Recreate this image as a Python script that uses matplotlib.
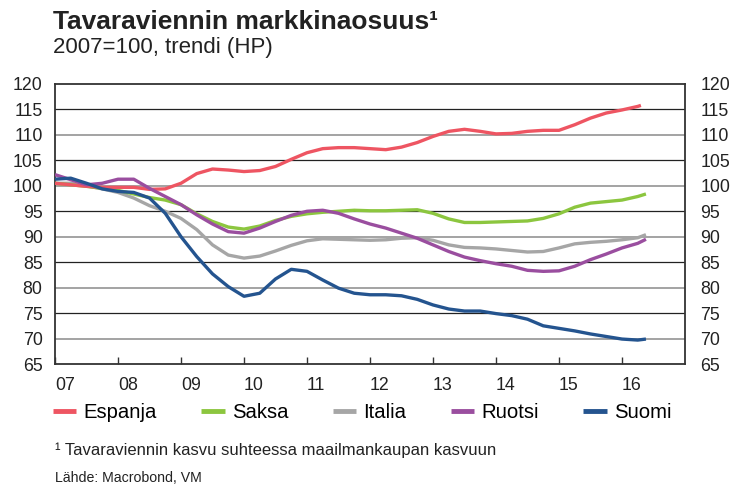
import matplotlib
matplotlib.use("Agg")
import matplotlib.pyplot as plt
import matplotlib.transforms as mtransforms

plt.rcParams['font.family'] = ['Liberation Sans', 'DejaVu Sans']

# ---- data (quarterly, 2007Q1 .. 2016Q2, plus last observation) ----
quarters = [2007 + i / 4 for i in range(38)]

espanja = [100.5, 100.2, 99.9, 99.7, 99.7, 99.7, 99.3, 99.4, 100.5, 102.4,
           103.3, 103.1, 102.8, 103.0, 103.8, 105.2, 106.5, 107.3, 107.5, 107.5,
           107.3, 107.1, 107.6, 108.5, 109.7, 110.7, 111.1, 110.7, 110.2, 110.3,
           110.7, 110.9, 110.9, 112.0, 113.3, 114.3, 114.9, 115.6]
espanja_end = (2016.30, 115.8)

saksa = [100.5, 100.2, 99.9, 99.5, 99.1, 98.4, 97.7, 97.2, 96.3, 94.5,
         93.0, 91.9, 91.5, 92.1, 93.2, 94.0, 94.5, 94.8, 95.0, 95.2,
         95.1, 95.1, 95.2, 95.3, 94.6, 93.5, 92.8, 92.8, 92.9, 93.0,
         93.1, 93.6, 94.5, 95.8, 96.6, 96.9, 97.2, 97.9]
saksa_end = (2016.38, 98.4)

italia = [100.5, 100.5, 100.0, 99.4, 98.7, 97.6, 96.1, 95.0, 93.6, 91.4,
          88.4, 86.4, 85.8, 86.2, 87.2, 88.3, 89.2, 89.6, 89.5, 89.4,
          89.3, 89.4, 89.7, 89.8, 89.3, 88.4, 87.9, 87.8, 87.6, 87.3,
          87.0, 87.1, 87.8, 88.6, 88.9, 89.1, 89.4, 89.8]
italia_end = (2016.38, 90.4)

ruotsi = [102.2, 101.2, 100.2, 100.5, 101.3, 101.3, 99.5, 97.9, 96.3, 94.3,
          92.5, 91.0, 90.7, 91.7, 93.0, 94.2, 95.0, 95.2, 94.6, 93.5,
          92.5, 91.7, 90.7, 89.7, 88.4, 87.1, 86.0, 85.3, 84.7, 84.2,
          83.4, 83.2, 83.3, 84.2, 85.5, 86.6, 87.8, 88.7]
ruotsi_end = (2016.38, 89.5)

suomi = [101.3, 101.5, 100.5, 99.4, 98.9, 98.7, 97.6, 94.6, 90.0, 86.1,
         82.7, 80.2, 78.3, 78.9, 81.7, 83.6, 83.2, 81.5, 79.9, 78.9,
         78.6, 78.6, 78.4, 77.7, 76.6, 75.8, 75.4, 75.4, 74.9, 74.5,
         73.8, 72.5, 72.0, 71.5, 70.9, 70.4, 69.9, 69.7]
suomi_end = (2016.38, 69.9)

series_names = ['Espanja', 'Saksa', 'Italia', 'Ruotsi', 'Suomi']
series_vals = [espanja, saksa, italia, ruotsi, suomi]
series_ends = [espanja_end, saksa_end, italia_end, ruotsi_end, suomi_end]
colors = ['#EE5562', '#8CC63F', '#A6A6A6', '#9A4E9F', '#24548F']
zorders = [4, 3, 2, 5, 6]

year_ticks = list(range(2007, 2017))
year_labels = ['07', '08', '09', '10', '11', '12', '13', '14', '15', '16']
y_ticks = list(range(65, 121, 5))

# ---- figure ----
fig = plt.figure(figsize=(7.33, 4.86), dpi=100)
ax = fig.add_axes([55 / 733, 1 - 364 / 486, 630 / 733, 280 / 486])

for v in y_ticks[1:-1]:
    if v % 10 == 5:
        ax.axhline(v, color='#222222', lw=0.9, zorder=1)
    else:
        ax.axhline(v, color='#8a8a8a', lw=1.1, zorder=1)

for name, vals, end, c, z in zip(series_names, series_vals, series_ends, colors, zorders):
    xs = quarters + [end[0]]
    ys = vals + [end[1]]
    ax.plot(xs, ys, color=c, lw=2.4, label=name, zorder=z,
            solid_capstyle='butt', solid_joinstyle='round')

ax.set_xlim(2007, 2017)
ax.set_ylim(65, 120)
ax.set_yticks(y_ticks)
ax.set_yticklabels([str(v) for v in y_ticks])
ax.tick_params(axis='y', length=0, labelsize=12.8, colors='#222222',
               left=True, right=True, labelleft=True, labelright=True, pad=9)
ax.set_xticks(year_ticks)
ax.set_xticklabels(year_labels, ha='left')
ax.tick_params(axis='x', direction='in', length=5, width=1, color='#333333',
               labelsize=12.8, labelcolor='#222222', pad=9)

offset = mtransforms.ScaledTranslation(3 / 100, 0, fig.dpi_scale_trans)
for t in ax.yaxis.get_major_ticks():
    t.label2.set_horizontalalignment('left')
    t.label2.set_transform(t.label2.get_transform() + offset)

for s in ax.spines.values():
    s.set_color('#333333')
    s.set_linewidth(1.3)

leg = fig.legend(loc='center left', bbox_to_anchor=(53 / 733, 1 - 413 / 486),
                 ncol=5, frameon=False, fontsize=14.6, handlelength=1.15,
                 handletextpad=0.35, columnspacing=2.2, borderaxespad=0,
                 borderpad=0)
for h in leg.legend_handles:
    h.set_linewidth(3.5)

fig.text(53 / 733, 1 - 22 / 486, 'Tavaraviennin markkinaosuus¹', fontsize=19,
         fontweight='bold', color='#222222', va='center', ha='left')
fig.text(53 / 733, 1 - 48 / 486, '2007=100, trendi (HP)', fontsize=16,
         color='#222222', va='center', ha='left')
fig.text(55 / 733, 1 - 450 / 486, '¹ Tavaraviennin kasvu suhteessa maailmankaupan kasvuun',
         fontsize=11.95, color='#222222', va='center', ha='left')
fig.text(55 / 733, 1 - 478 / 486, 'Lähde: Macrobond, VM', fontsize=10.2,
         color='#222222', va='center', ha='left')

fig.savefig('out.png', dpi=100)
